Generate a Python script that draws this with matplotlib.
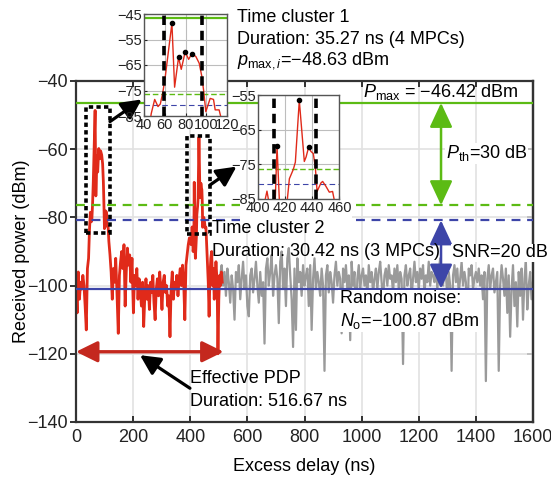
import numpy as np
import matplotlib
matplotlib.use('Agg')
import matplotlib.pyplot as plt
from matplotlib.patches import Rectangle

plt.rcParams['font.family'] = ['Liberation Sans', 'DejaVu Sans']
plt.rcParams['mathtext.fontset'] = 'custom'
plt.rcParams['mathtext.rm'] = 'Liberation Sans'
plt.rcParams['mathtext.it'] = 'Liberation Sans:italic'
plt.rcParams['axes.unicode_minus'] = True

# Effective PDP (red), delay in ns, power in dBm
red_delay = [0, 4, 8, 12, 16, 20, 24, 28, 32, 36, 40, 44, 47,
             50.3, 53.5, 55.7, 58, 60.5, 63.7, 66.9, 69.5, 73.3, 75.9,
             79.7, 83, 86.2, 90, 93.2, 95.8, 97.4, 99.6, 103.8, 107,
             108.6, 112.4, 115, 119, 123, 127, 131, 135, 139, 143, 148,
             152, 156, 160, 164, 168, 172, 176, 180, 184, 188, 192, 196,
             201, 205, 209, 213, 217, 221, 225, 229, 233, 237, 241, 245,
             249, 253, 257, 261, 265, 269, 273, 277, 281, 285, 289, 293,
             297, 301, 305, 309, 313, 317, 321, 325, 329, 333, 337, 341,
             345, 349, 353, 357, 361, 365, 369, 373, 377, 381, 385, 389,
             393, 397, 400, 403, 405.4, 406.6, 407.8, 410, 412.5, 414,
             416, 418, 421.4, 423.1, 426, 427.5, 430.4, 434.1, 435.4,
             437.3, 439, 440.7, 442.2, 443.5, 446.4, 447.6, 450, 452.5,
             454.9, 457, 460, 463, 466, 469, 472, 475, 478, 481, 484,
             487, 490, 494, 497, 500, 503, 506, 509, 512]
red_power = [-100, -108, -96, -104, -99, -101, -97, -100, -106, -113, -95, -92, -84,
             -78.5, -81.3, -80.3, -76.1, -69.6, -59.1, -48.63, -73.7, -62.0, -66.7,
             -59.8, -62.8, -60.5, -61.7, -64.3, -69.6, -74.8, -83.3, -78.1, -78.5,
             -82.6, -82.6, -87, -91, -96, -104, -95, -99, -92, -101, -114,
             -97, -93, -90, -95, -88, -106, -96, -89, -94, -91, -99, -92,
             -108, -97, -100, -95, -104, -98, -101, -106, -99, -112, -103, -98,
             -104, -100, -107, -99, -102, -97, -105, -110, -101, -98, -103, -96,
             -101, -107, -99, -97, -102, -100, -106, -103, -115, -101, -96, -104,
             -99, -101, -97, -103, -98, -95, -100, -94, -99, -110, -94, -91,
             -88, -86, -87, -88, -85, -82.8, -85.5, -90, -88, -69.7,
             -88, -92, -86, -79.2, -76.5, -74.4, -56.5, -74.2, -72.9,
             -70.0, -71.3, -71.9, -75.8, -82.9, -80.4, -80.0, -81.4, -83.1,
             -82.9, -87, -93, -99, -109, -97, -92, -90, -100, -95, -104,
             -98, -93, -99, -120, -104, -97, -100, -96, -99]

# Remaining PDP samples (gray), 505 ns ... 1600 ns every 5 ns
gray_delay = np.arange(505, 1601, 5)
gray_power = [
    -97, -94, -100, -96, -103, -95, -99, -105, -97, -101,
    -110, -96, -99, -94, -104, -98, -93, -101, -97, -106,
    -109, -97, -95, -102, -98, -93, -100, -105, -96, -103,
    -99, -117, -95, -92, -100, -96, -91, -103, -97, -94,
    -98, -111, -93, -90, -101, -95, -106, -92, -89, -97,
    -104, -118, -95, -113, -92, -99, -96, -103, -94, -100,
    -97, -95, -106, -94, -113, -98, -92, -101, -96, -99,
    -103, -95, -100, -125, -97, -94, -102, -96, -99, -105,
    -97, -93, -100, -96, -98, -114, -95, -99, -94, -101,
    -97, -116, -93, -100, -96, -113, -98, -94, -101, -97,
    -95, -100, -97, -103, -94, -99, -96, -102, -98, -95,
    -101, -96, -93, -99, -104, -97, -95, -100, -94, -98,
    -97, -102, -95, -99, -94, -101, -96, -98, -123, -97,
    -94, -100, -97, -95, -103, -98, -93, -99, -96, -101,
    -95, -98, -94, -102, -97, -99, -93, -100, -96, -97,
    -99, -94, -101, -96, -92, -98, -100, -95, -97, -103,
    -96, -100, -125, -97, -94, -99, -95, -102, -98, -93,
    -100, -96, -99, -113, -95, -97, -94, -101, -98, -96,
    -99, -95, -100, -97, -104, -96, -128, -98, -94, -101,
    -97, -95, -102, -99, -96, -125, -100, -94, -98, -103,
    -95, -108, -97, -115, -101, -94, -106, -99, -112, -96,
    -103, -95, -110, -98, -93, -107, -100, -96, -104, -99]

# MPCs and cluster limits
mpc1_delay = [66.9, 73.3, 79.7, 86.2]
mpc1_power = [-48.63, -62.0, -59.8, -60.5]
mpc2_delay = [414.0, 430.4, 437.3]
mpc2_power = [-69.7, -56.5, -70.0]
cluster1_edges = [59.0, 95.5]
cluster2_edges = [412.0, 442.4]

p_max = -46.42
p_th = 30
noise_floor = -100.87
snr = 20
pdp_duration = 516.67

RED = '#e02a1a'
DRED = '#c4281e'
GREEN = '#5cbb14'
BLUE = '#3d45a8'
GRAY = '#9a9a9a'
FS = 13

fig = plt.figure(figsize=(5.51, 4.79), dpi=100)
W, H = 551, 479
ax = fig.add_axes([76 / W, 1 - 422 / H, 457 / W, 341 / H])

ax.plot(gray_delay, gray_power, color=GRAY, lw=1.6, zorder=2)
ax.plot(red_delay, red_power, color=RED, lw=2.0, zorder=2.5)

ax.axhline(p_max, color=GREEN, lw=1.6, zorder=3)
ax.axhline(p_max - p_th, color=GREEN, lw=1.6, ls=(0, (4, 3)), zorder=3)
ax.axhline(noise_floor + snr, color=BLUE, lw=1.6, ls=(0, (4, 3)), zorder=3)
ax.axhline(noise_floor, color=BLUE, lw=1.6, zorder=3)

ax.set_xlim(0, 1600)
ax.set_ylim(-140, -40)
ax.set_xticks(np.arange(0, 1601, 200))
ax.set_yticks(np.arange(-140, -39, 20))
ax.grid(True, color='#e2e2e2', lw=1.2, zorder=0)
ax.set_axisbelow(True)
ax.tick_params(axis='both', labelsize=FS, colors='#222222')
ax.tick_params(axis='y', direction='out', length=4, width=1.3, pad=2)
ax.tick_params(axis='x', direction='in', length=4, width=1.3, top=True, pad=5)
sec = ax.secondary_yaxis('right')
sec.set_yticks(np.arange(-140, -39, 20))
sec.tick_params(direction='in', length=4, width=1.3, labelright=False)
for sp in list(ax.spines.values()) + [sec.spines['right']]:
    sp.set_color('#333333')
    sp.set_linewidth(1.6)
ax.set_xlabel('Excess delay (ns)', fontsize=FS, labelpad=9)
ax.set_ylabel('Received power (dBm)', fontsize=FS, labelpad=-2)

# cluster boxes
ax.add_patch(Rectangle((35, -84.7), 84, 37.2, fill=False, ec='k', lw=2.6,
                       ls=(0, (1.2, 0.9)), zorder=4))
ax.add_patch(Rectangle((390, -84.9), 79, 28.8, fill=False, ec='k', lw=2.6,
                       ls=(0, (1.2, 0.9)), zorder=4))
ax.add_patch(Rectangle((574, -82), 392, 8, fc='white', ec='none', zorder=3.5))

blk = dict(arrowstyle='-|>,head_length=0.6,head_width=0.3', color='k', lw=2.3,
           mutation_scale=20, shrinkA=0, shrinkB=0)
ax.annotate('', xy=(230, -45.4), xytext=(119, -51.9), arrowprops=blk,
            annotation_clip=False, zorder=5)
ax.annotate('', xy=(562, -65.1), xytext=(469, -70.5), arrowprops=blk, zorder=5)
ax.annotate('', xy=(224, -120.4), xytext=(399, -130.1), arrowprops=blk, zorder=5)

def double_arrow(x0, y0, x1, y1, color, lw, hl=0.75, hw=0.35):
    ax.annotate('', xy=(x1, y1), xytext=(x0, y0), zorder=5,
                arrowprops=dict(arrowstyle='<|-|>,head_length=%g,head_width=%g' % (hl, hw),
                                color=color, lw=lw, mutation_scale=20,
                                shrinkA=0, shrinkB=0))

double_arrow(0, -119.4, pdp_duration, -119.4, DRED, 2.4, 0.65, 0.32)
double_arrow(1278, p_max, 1278, p_max - p_th, GREEN, 1.8)
double_arrow(1278, noise_floor + snr, 1278, noise_floor, BLUE, 1.8)

# annotations
ax.text(1005, -43.1, r'$P_{\mathrm{max}}$ = $-$46.42 dBm', fontsize=FS, va='center', zorder=6)
ax.text(1295, -61.2, r'$P_{\mathrm{th}}$=30 dB', fontsize=FS, va='center', zorder=6,
        bbox=dict(fc='white', ec='none', pad=0.5))
ax.text(1315, -90.4, 'SNR=20 dB', fontsize=FS, va='center', zorder=6,
        bbox=dict(fc='white', ec='none', pad=0.5))
ax.text(476, -83.4, 'Time cluster 2', fontsize=FS, va='center', zorder=6)
ax.text(476, -90.1, 'Duration: 30.42 ns (3 MPCs)', fontsize=FS, va='center', zorder=6)
ax.text(924, -107.3, 'Random noise:\n$N_{\\mathrm{o}}$=\u2212100.87 dBm', fontsize=FS,
        va='center', linespacing=1.25, zorder=6,
        bbox=dict(fc='white', ec='none', pad=1))
ax.text(399, -127.1, 'Effective PDP', fontsize=FS, va='center', zorder=6)
ax.text(399, -134.0, 'Duration: 516.67 ns', fontsize=FS, va='center', zorder=6)

fig.text(237 / W, 1 - 17 / H, 'Time cluster 1', fontsize=FS, va='center')
fig.text(237 / W, 1 - 39 / H, 'Duration: 35.27 ns (4 MPCs)', fontsize=FS, va='center')
fig.text(237 / W, 1 - 61 / H, r'$p_{\mathrm{max},i}$=$-$48.63 dBm', fontsize=FS, va='center')

# insets
def inset(rect, xlim, ylim, xticks, yticks, mpc_d, mpc_p, edges, show_pmax):
    a = fig.add_axes(rect)
    a.set_facecolor('white')
    a.plot(red_delay, red_power, color=RED, lw=1.0, zorder=3)
    if show_pmax:
        a.axhline(p_max, color=GREEN, lw=1.6, zorder=2)
    a.axhline(p_max - p_th, color=GREEN, lw=1.0, ls=(0, (4, 2)), zorder=2)
    a.axhline(noise_floor + snr, color=BLUE, lw=0.8, ls=(0, (5, 3)), zorder=2)
    for e in edges:
        a.axvline(e, color='k', lw=2.6, ls=(0, (2.6, 1.6)), zorder=4)
    a.plot(mpc_d, mpc_p, 'o', color='k', ms=3, zorder=5)
    a.set_xlim(*xlim)
    a.set_ylim(*ylim)
    a.set_xticks(xticks)
    a.set_yticks(yticks)
    a.grid(True, color='#bdbdbd', lw=0.8)
    a.set_axisbelow(True)
    a.tick_params(labelsize=10.5, length=2, direction='in', pad=1.5, colors='#222222')
    for sp in a.spines.values():
        sp.set_color('#555555')
        sp.set_linewidth(1.0)
    return a

inset([144 / W, 1 - 116 / H, 83 / W, 102 / H], (40, 120), (-85, -45),
      [40, 60, 80, 100, 120], [-85, -75, -65, -55, -45],
      mpc1_delay, mpc1_power, cluster1_edges, True)
inset([258 / W, 1 - 198.7 / H, 81.5 / W, 103.4 / H], (400, 460), (-85, -55),
      [400, 420, 440, 460], [-85, -75, -65, -55],
      mpc2_delay, mpc2_power, cluster2_edges, False)

fig.savefig('out.png', dpi=100)
